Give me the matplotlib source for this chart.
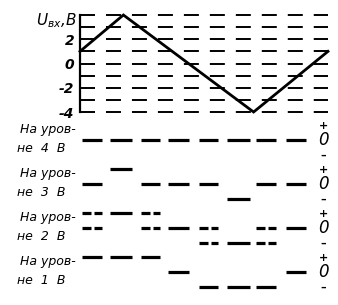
import matplotlib
matplotlib.use('Agg')
import matplotlib.pyplot as plt
import matplotlib.transforms as mtransforms

plt.rcParams['font.family'] = ['DejaVu Sans']
plt.rcParams['font.style'] = 'italic'
plt.rcParams['lines.scale_dashes'] = False

# входной треугольный сигнал
t_in = [0, 2.8, 11.2, 16]
u_in = [1, 4, -4, 1]
grid_levels = [-4, -3, -2, -1, 0, 1, 2, 3, 4]
tick_vals = [2, 0, -2, -4]
tick_labels = ['2', '0', '-2', '-4']

# интервалы, на которых показаны выходы компараторов
slot_start = [0.13, 1.94, 3.94, 5.68, 7.68, 9.48, 11.35, 13.29]
slot_end = [1.42, 3.35, 5.16, 7.03, 8.90, 10.97, 12.65, 14.58]
row_names = ['4', '3', '2', '1']
row_states = {
    '4': ['0', '0', '0', '0', '0', '0', '0', '0'],
    '3': ['0', '+', '0', '0', '0', '-', '0', '0'],
    '2': ['+0', '+', '+0', '0', '0-', '-', '0-', '0'],
    '1': ['+', '+', '+', '0', '-', '-', '-', '0'],
}
level_of = {'+': 1, '0': 0, '-': -1}

W, H = 338, 305


def box(x0, y0, x1, y1):
    return [x0 / W, 1 - y1 / H, (x1 - x0) / W, (y1 - y0) / H]


fig = plt.figure(figsize=(W / 100, H / 100), dpi=100)

# верхний график
ax = fig.add_axes(box(80, 15, 328, 112))
ax.set_xlim(0, 16)
ax.set_ylim(-4, 4)
for lv in grid_levels:
    ax.axhline(lv, color='black', lw=1.4, linestyle=(0, (10.8, 7.9)),
               clip_on=False)
ax.plot(t_in, u_in, color='black', lw=2.0, clip_on=False,
        solid_joinstyle='miter')
for s in ['top', 'right', 'bottom']:
    ax.spines[s].set_visible(False)
ax.spines['left'].set_linewidth(1.6)
ax.set_xticks([])
ax.set_yticks(tick_vals, tick_labels)
ax.tick_params(axis='y', length=0, pad=4, labelsize=10)
for lab in ax.get_yticklabels():
    lab.set_fontweight('bold')
trans = mtransforms.blended_transform_factory(ax.transAxes, ax.transData)
ax.text(-0.012, 3.5, '$U_{вх}$,В', transform=trans, ha='right',
        va='center', fontsize=11)

# выходы компараторов
centers = [140, 184, 228, 272]
for name, c in zip(row_names, centers):
    rax = fig.add_axes(box(80, c - 22, 328, c + 22))
    rax.set_xlim(0, 16)
    rax.set_ylim(-22 / 15, 22 / 15)
    rax.axis('off')
    for s, e, st in zip(slot_start, slot_end, row_states[name]):
        for ch in st:
            lv = level_of[ch]
            if len(st) == 1:
                rax.plot([s, e], [lv, lv], color='black', lw=2.3,
                         solid_capstyle='butt')
            else:
                m1 = s + 0.45 * (e - s)
                m2 = s + 0.62 * (e - s)
                rax.plot([s, m1], [lv, lv], color='black', lw=2.3,
                         solid_capstyle='butt')
                rax.plot([m2, e], [lv, lv], color='black', lw=2.3,
                         solid_capstyle='butt')
    rt = mtransforms.blended_transform_factory(rax.transAxes, rax.transData)
    rax.text(0.98, 0.95, '+', transform=rt, ha='center', va='center',
             fontsize=8, fontweight='bold', fontstyle='normal')
    rax.text(0.98, 0, '0', transform=rt, ha='center', va='center',
             fontsize=12)
    rax.text(0.98, -1.05, '–', transform=rt, ha='center', va='center',
             fontsize=8, fontweight='bold', fontstyle='normal')
    rax.text(-0.242, 0.67, 'На уров-', transform=rt, ha='left',
             va='center', fontsize=9)
    rax.text(-0.255, -0.55, 'не  ' + name + '  В', transform=rt, ha='left',
             va='center', fontsize=9)

fig.savefig('out.png', dpi=100)
